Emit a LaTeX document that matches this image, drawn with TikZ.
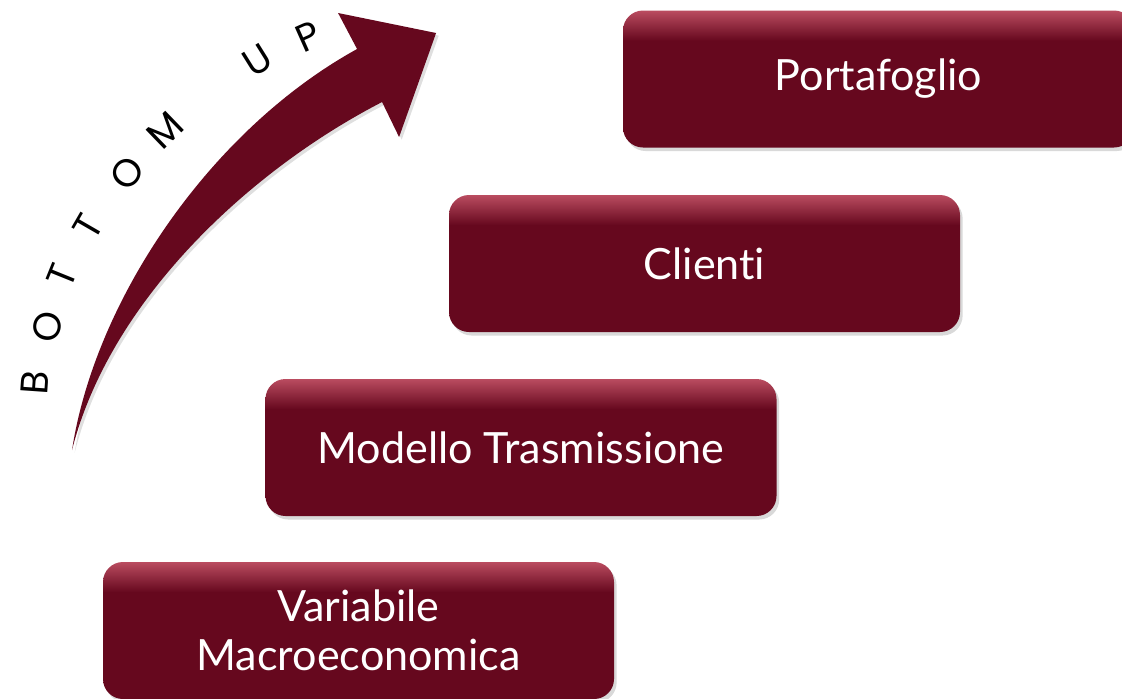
\documentclass[tikz,border=0pt]{standalone}
\usepackage{fontspec}
\setmainfont{Lato}[Ligatures=NoCommon]
\newfontfamily\arcfont{Poppins}
\usetikzlibrary{
    positioning, % for placing the steps relative to one another
    shadows % for the soft shadow under the steps and the arrow
}

\definecolor{stepdark}{RGB}{102,8,30}
\definecolor{steplight}{RGB}{186,76,96}
% dark body with a light band along the top edge
\pgfdeclareverticalshading{stepshade}{100bp}{color(0bp)=(stepdark); color(25bp)=(stepdark); color(64bp)=(stepdark); color(75bp)=(steplight); color(100bp)=(steplight)}

\begin{document}
\begin{tikzpicture}[
        node distance=3.6cm,on grid,
        stepbox/.style   = {rectangle,rounded corners=0.4cm,minimum width=10.22cm,minimum height=2.74cm,
                            shading=stepshade,text=white,align=center,
                            font=\fontsize{24.5}{28}\selectfont,
                            drop shadow={shadow xshift=1.5pt,shadow yshift=-2pt,opacity=0.3}},
        arc letter/.style = {font=\fontsize{22}{22}\arcfont,inner sep=0pt}
    ]

    \useasboundingbox (0,0) rectangle (22.44,-13.96);

    % the four steps, from the bottom up

        \node [stepbox] (var) at (7.17,-12.61)                {Variabile\\Macroeconomica};
        \node [stepbox] (mod) [above right=3.66cm and 3.25cm of var] {Modello Trasmissione};
        \node [stepbox] (cli) [above right=3.68cm and 3.67cm of mod] {Clienti};
        \node [stepbox] (por) [above right=3.69cm and 3.48cm of cli] {Portafoglio};

    % curved arrow and its lettering (pixel units)

    \begin{scope}[x=0.02cm,y=-0.02cm]
        \fill [stepdark,drop shadow={shadow xshift=1.5pt,shadow yshift=-1.5pt,opacity=0.25}]
            (72,450) .. controls (95,300) and (210,130) .. (357,49)
            -- (338,13) -- (436,33) -- (399,137) -- (382,102)
            .. controls (250,170) and (110,300) .. (72,450) -- cycle;

        \foreach \ch/\px/\py/\ang in {B/35/383/86, O/47/327/78, T/62/276/68, T/88/227/60,
                                      O/127/173/52, M/165/130/44, U/257/60/32, P/308/37/24}
            \node [arc letter,rotate=\ang] at (\px,\py) {\ch};
    \end{scope}

\end{tikzpicture}
\end{document}
